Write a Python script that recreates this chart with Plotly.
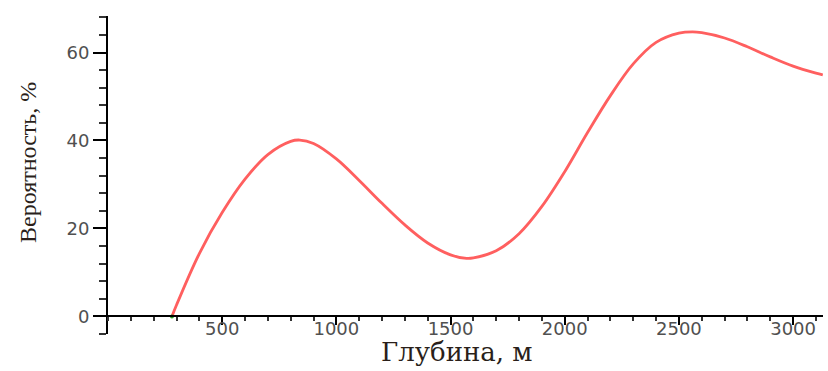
import plotly.graph_objects as go

# Depth (m) and probability (%)
depth = [280, 300, 400, 500, 600, 700, 800, 840, 900, 1000, 1100, 1200, 1300, 1400,
         1500, 1570, 1600, 1700, 1800, 1900, 2000, 2100, 2200, 2300, 2400, 2500,
         2560, 2600, 2700, 2800, 2900, 3000, 3100, 3130]
probability = [0.0, 2.6, 14.3, 23.6, 31.2, 36.8, 39.8, 40.1, 39.3, 35.8, 30.9, 25.7, 20.8, 16.7,
               14.0, 13.2, 13.3, 14.9, 18.8, 25.0, 32.9, 41.8, 50.2, 57.4, 62.3, 64.4,
               64.7, 64.5, 63.3, 61.3, 59.0, 56.9, 55.3, 54.9]

x_range = [0, 3131]
y_range = [-4, 68.3]
x_ticks = [500, 1000, 1500, 2000, 2500, 3000]
y_ticks = [0, 20, 40, 60]

x_title = "Глубина, м"
y_title = "Вероятность, %"

# plot area geometry (pixels)
LEFT, RIGHT, TOP, BOTTOM = 108, 5, 16, 37
PLOT_W = 828 - LEFT - RIGHT
PLOT_H = 371 - TOP - BOTTOM

fig = go.Figure()
fig.add_trace(go.Scatter(
    x=depth, y=probability, mode="lines",
    line=dict(color="rgb(255,95,95)", width=2.8, shape="spline", smoothing=1.0),
    hoverinfo="skip", showlegend=False,
))
fig.add_trace(go.Scatter(
    x=[depth[0]], y=[probability[0]], mode="markers",
    marker=dict(color="rgb(40,160,40)", size=4),
    hoverinfo="skip", showlegend=False,
))

tick_font = dict(family="DejaVu Sans", size=18, color="#505050")
title_color = "#2a1f1a"

fig.update_layout(
    width=828, height=371,
    margin=dict(l=LEFT, r=RIGHT, t=TOP, b=BOTTOM),
    plot_bgcolor="white", paper_bgcolor="white",
    xaxis=dict(
        range=x_range, anchor="free",
        position=(0 - y_range[0]) / (y_range[1] - y_range[0]),
        showgrid=False, zeroline=False,
        showline=True, linecolor="black", linewidth=2,
        tickmode="array", tickvals=x_ticks,
        ticks="outside", ticklen=8, tickwidth=1.5, tickcolor="black",
        ticklabelstandoff=-12,
        minor=dict(dtick=100, tick0=0, ticks="outside", ticklen=4,
                   tickwidth=1.5, tickcolor="#333"),
        tickfont=tick_font,
    ),
    yaxis=dict(
        range=y_range,
        showgrid=False, zeroline=False,
        showline=True, linecolor="black", linewidth=2,
        tickmode="array", tickvals=y_ticks,
        ticks="outside", ticklen=13, tickwidth=1.5, tickcolor="black",
        minor=dict(dtick=4, tick0=0, ticks="outside", ticklen=7,
                   tickwidth=1.5, tickcolor="#333"),
        tickfont=tick_font,
    ),
    annotations=[
        dict(text=x_title, x=(457 - LEFT) / PLOT_W, y=0, xref="paper", yref="paper",
             yshift=-(352 - (TOP + PLOT_H)), xanchor="center", yanchor="middle",
             showarrow=False,
             font=dict(family="DejaVu Serif", size=26, color=title_color)),
        dict(text=y_title, x=0, y=(TOP + PLOT_H - 163) / PLOT_H,
             xref="paper", yref="paper", xshift=-(LEFT - 28), textangle=-90,
             xanchor="center", yanchor="middle", showarrow=False,
             font=dict(family="Liberation Serif", size=24, color=title_color)),
    ],
)

fig.write_html("out.html")
